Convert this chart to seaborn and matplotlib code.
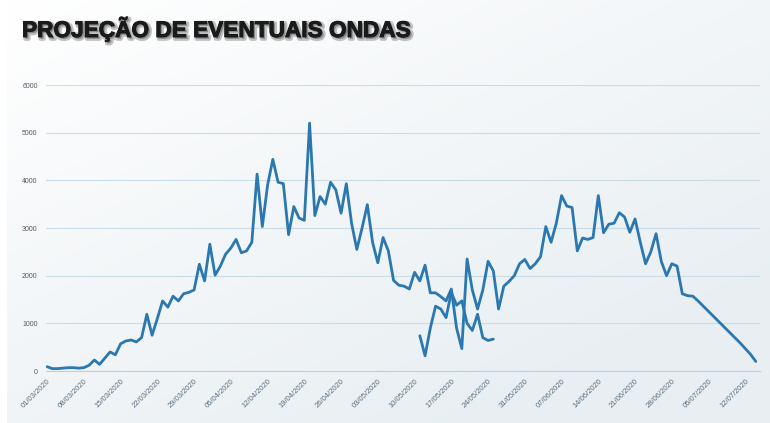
import numpy as np
import pandas as pd
import seaborn as sns
import matplotlib.pyplot as plt
import matplotlib.patheffects as pe

# valores (curva principal, 01/03/2020 a 14/07/2020)
casos = [90, 50, 50, 60, 70, 70, 60, 70, 120, 230,
         140, 270, 400, 340, 570, 630, 650, 610, 700, 1190,
         750, 1100, 1470, 1340, 1570, 1470, 1620, 1650, 1700, 2240,
         1890, 2660, 2010, 2200, 2450, 2580, 2760, 2480, 2520, 2700,
         4130, 3030, 3900, 4440, 3960, 3930, 2860, 3450, 3210, 3160,
         5200, 3260, 3660, 3500, 3960, 3800, 3310, 3930, 3100, 2550,
         3000, 3490, 2700, 2270, 2800, 2520, 1900, 1800, 1780, 1720,
         2070, 1890, 2220, 1640, 1640, 1560, 1470, 1720, 900, 470,
         2350, 1700, 1300, 1700, 2300, 2100, 1300, 1780, 1880, 2000,
         2250, 2340, 2150, 2250, 2400, 3030, 2700, 3100, 3680, 3460,
         3430, 2520, 2790, 2760, 2800, 3680, 2900, 3080, 3100, 3320,
         3230, 2910, 3190, 2700, 2250, 2500, 2880, 2300, 2000, 2250,
         2200, 1620, 1580, 1570, 1470, 1360, 1250, 1140, 1030, 920,
         810, 700, 590, 470, 350, 200]

# segunda curva (11/05/2020 a 25/05/2020)
casos_b = [740, 320, 900, 1360, 1300, 1120, 1650, 1380, 1470, 1000,
           850, 1190, 700, 640, 670]

tick_labels = ["01/03/2020", "08/03/2020", "15/03/2020", "22/03/2020", "29/03/2020",
               "05/04/2020", "12/04/2020", "19/04/2020", "26/04/2020", "03/05/2020",
               "10/05/2020", "17/05/2020", "24/05/2020", "31/05/2020", "07/06/2020",
               "14/06/2020", "21/06/2020", "28/06/2020", "05/07/2020", "12/07/2020"]
y_ticks = [0, 1000, 2000, 3000, 4000, 5000, 6000]

df = pd.DataFrame({'data': pd.date_range('2020-03-01', periods=len(casos), freq='D'),
                   'casos': casos})
df_b = pd.DataFrame({'data': pd.date_range('2020-05-11', periods=len(casos_b), freq='D'),
                     'casos': casos_b})
tick_dates = pd.to_datetime(tick_labels, format='%d/%m/%Y')

sns.set_style('white')
plt.rcParams['font.family'] = ['Liberation Sans', 'DejaVu Sans']

fig = plt.figure(figsize=(7.7, 4.23), dpi=100)
fig.patch.set_facecolor('white')

# fundo em degrade
bg = fig.add_axes([7 / 770, 0, 1 - 7 / 770, 1], zorder=-5)
gx, gy = np.meshgrid(np.linspace(0, 1, 200), np.linspace(0, 1, 120))
t = np.clip(0.55 * gx + 0.65 * gy, 0, 1)
c0 = np.array([1.0, 1.0, 1.0])
c1 = np.array([0.91, 0.935, 0.95])
img = c0[None, None, :] * (1 - t[..., None]) + c1[None, None, :] * t[..., None]
bg.imshow(img, aspect='auto', extent=[0, 1, 0, 1], origin='upper')
bg.axis('off')

ax = fig.add_axes([46 / 770, 1 - 371 / 423, (760 - 46) / 770, (371 - 85) / 423])
ax.set_facecolor('none')

sns.lineplot(data=df, x='data', y='casos', ax=ax, color='#2b78b0', linewidth=2.0,
             solid_joinstyle='round', solid_capstyle='round')
sns.lineplot(data=df_b, x='data', y='casos', ax=ax, color='#2b78b0', linewidth=2.0,
             solid_joinstyle='round', solid_capstyle='round')

ax.set_ylim(0, 6000)
ax.set_xlim(pd.Timestamp('2020-03-01') - pd.Timedelta(hours=5),
            pd.Timestamp('2020-03-01') + pd.Timedelta(days=135.8))
ax.set_yticks(y_ticks)
ax.set_yticklabels([str(v) for v in y_ticks], fontsize=5, color='#5a5a5a')
ax.set_xticks(tick_dates)
ax.set_xticklabels(tick_labels, fontsize=5.5, color='#5b6f80', rotation=45,
                   ha='right', rotation_mode='anchor')
ax.tick_params(axis='both', length=0)
ax.tick_params(axis='y', pad=6)
ax.tick_params(axis='x', pad=5)
ax.yaxis.grid(True, color='#c9dce8', linewidth=0.8)
ax.set_axisbelow(True)
for s in ['top', 'right', 'left']:
    ax.spines[s].set_visible(False)
ax.spines['bottom'].set_color('#b8d2e2')
ax.spines['bottom'].set_linewidth(0.8)
ax.set_xlabel('')
ax.set_ylabel('')

fig.text(22 / 770, 1 - 37 / 423, 'PROJEÇÃO DE EVENTUAIS ONDAS', fontsize=16.3,
         fontweight='bold', color='#1a1a1a', va='baseline', ha='left',
         path_effects=[pe.Stroke(linewidth=3, foreground='#8a8a8a', alpha=0.5,
                                 offset=(1.3, -1.3)),
                       pe.Stroke(linewidth=0.7, foreground='#1a1a1a'),
                       pe.Normal()])

plt.savefig('out.png', dpi=100)
